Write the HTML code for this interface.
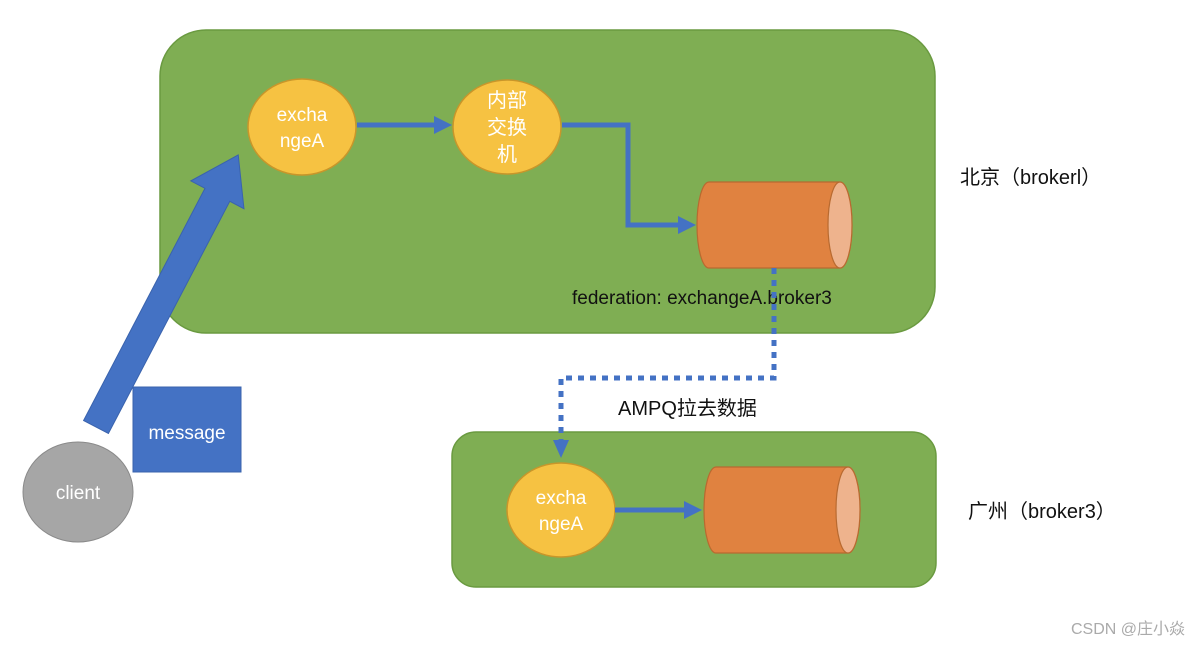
<!DOCTYPE html>
<html><head><meta charset="utf-8"><style>
body{margin:0;background:#fff;width:1200px;height:646px;overflow:hidden}
svg text{font-family:"Liberation Sans","Noto Sans CJK SC",sans-serif}
</style></head><body>
<svg width="1200" height="646" viewBox="0 0 1200 646" xmlns="http://www.w3.org/2000/svg">
<rect x="160" y="30" width="775" height="303" rx="46" fill="#7fae53" stroke="#6a9a40" stroke-width="1.5"/>
<rect x="452" y="432" width="484" height="155" rx="24" fill="#7fae53" stroke="#6a9a40" stroke-width="1.5"/>
<!-- top ellipses -->
<ellipse cx="302" cy="127" rx="54" ry="48" fill="#f6c242" stroke="#c8962a" stroke-width="1.5"/>
<text x="302" y="121" font-size="19" fill="#fff" text-anchor="middle">excha</text>
<text x="302" y="147" font-size="19" fill="#fff" text-anchor="middle">ngeA</text>
<ellipse cx="507" cy="127" rx="54" ry="47" fill="#f6c242" stroke="#c8962a" stroke-width="1.5"/>
<text x="507" y="107" font-size="20" fill="#fff" text-anchor="middle">内部</text>
<text x="507" y="134" font-size="20" fill="#fff" text-anchor="middle">交换</text>
<text x="507" y="161" font-size="20" fill="#fff" text-anchor="middle">机</text>
<!-- arrows top -->
<line x1="357" y1="125" x2="436" y2="125" stroke="#4472c4" stroke-width="5"/>
<polygon points="434,116 452,125 434,134" fill="#4472c4"/>
<polyline points="562,125 628,125 628,225 680,225" fill="none" stroke="#4472c4" stroke-width="5"/>
<polygon points="678,216 696,225 678,234" fill="#4472c4"/>
<!-- cylinder top -->
<path d="M709,182 H840 A12,43 0 0 1 840,268 H709 A12,43 0 0 1 709,182 Z" fill="#e08240" stroke="#b86a30" stroke-width="1.2"/>
<ellipse cx="840" cy="225" rx="12" ry="43" fill="#eeb38d" stroke="#b86a30" stroke-width="1.2"/>
<text x="572" y="304" font-size="19" fill="#111">federation: exchangeA.broker3</text>
<!-- dotted -->
<polyline points="774,268 774,378 561,378 561,442" fill="none" stroke="#4472c4" stroke-width="5" stroke-dasharray="6,6"/>
<polygon points="553,440 561,458 569,440" fill="#4472c4"/>
<text x="618" y="415" font-size="20" fill="#111">AMPQ拉去数据</text>
<!-- bottom -->
<ellipse cx="561" cy="510" rx="54" ry="47" fill="#f6c242" stroke="#c8962a" stroke-width="1.5"/>
<text x="561" y="504" font-size="19" fill="#fff" text-anchor="middle">excha</text>
<text x="561" y="530" font-size="19" fill="#fff" text-anchor="middle">ngeA</text>
<line x1="615" y1="510" x2="686" y2="510" stroke="#4472c4" stroke-width="5"/>
<polygon points="684,501 702,510 684,519" fill="#4472c4"/>
<path d="M716,467 H848 A12,43 0 0 1 848,553 H716 A12,43 0 0 1 716,467 Z" fill="#e08240" stroke="#b86a30" stroke-width="1.2"/>
<ellipse cx="848" cy="510" rx="12" ry="43" fill="#eeb38d" stroke="#b86a30" stroke-width="1.2"/>
<!-- labels -->
<text x="960" y="184" font-size="20" fill="#111">北京（brokerl）</text>
<text x="968" y="518" font-size="20" fill="#111">广州（broker3）</text>
<!-- big arrow -->
<g transform="translate(96,427) rotate(-62.4)">
<polygon points="0,-14 262,-14 262,-30 307,0 262,30 262,14 0,14" fill="#4472c4" stroke="#3a63ad" stroke-width="1"/>
</g>
<rect x="133" y="387" width="108" height="85" fill="#4472c4" stroke="#3a63ad"/>
<text x="187" y="439" font-size="19" fill="#fff" text-anchor="middle">message</text>
<ellipse cx="78" cy="492" rx="55" ry="50" fill="#a6a6a6" stroke="#8a8a8a"/>
<text x="78" y="499" font-size="19" fill="#fff" text-anchor="middle">client</text>
<text x="1185" y="634" font-size="16" fill="#aaa" text-anchor="end">CSDN @庄小焱</text>
</svg>
</body></html>
